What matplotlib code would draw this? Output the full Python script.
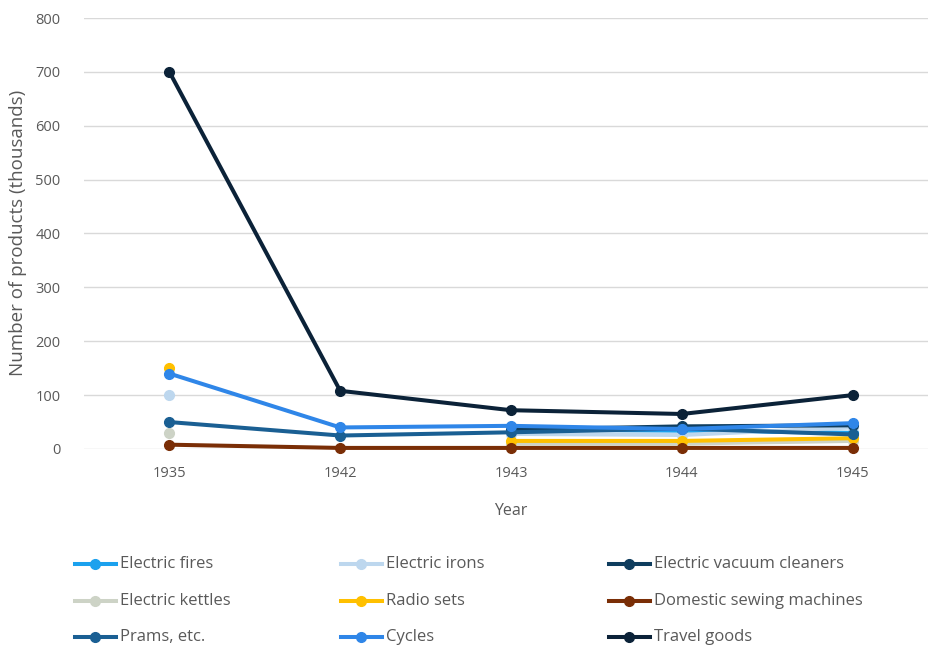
import numpy as np
import matplotlib
matplotlib.use("Agg")
import matplotlib.pyplot as plt
from matplotlib.lines import Line2D

plt.rcParams['font.family'] = ['Open Sans', 'DejaVu Sans']

years = ["1935", "1942", "1943", "1944", "1945"]
nan = np.nan

electric_fires = [nan, nan, 36, 34, 30]
electric_irons = [100, nan, 28, 26, 40]
vacuum_cleaners = [nan, nan, 36, 42, 44]
electric_kettles = [30, nan, 10, 10, 15]
radio_sets = [150, nan, 15, 15, 20]
sewing_machines = [8, 2, 2, 2, 2]
prams = [50, 25, 31, 38, 27]
cycles = [140, 40, 43, 37, 48]
travel_goods = [700, 108, 72, 65, 100]

series_names = ["Electric fires", "Electric irons", "Electric vacuum cleaners",
                "Electric kettles", "Radio sets", "Domestic sewing machines",
                "Prams, etc.", "Cycles", "Travel goods"]
series_values = [electric_fires, electric_irons, vacuum_cleaners,
                 electric_kettles, radio_sets, sewing_machines,
                 prams, cycles, travel_goods]
series_colors = ["#1BA1EE", "#BDD7EE", "#0F3D5E",
                 "#CDD3C6", "#FFC000", "#7A2E06",
                 "#1A5F93", "#2F86E8", "#0B2238"]

LW = 2.9
MS = 7.0

W, H = 929, 652
fig = plt.figure(figsize=(W / 100, H / 100), dpi=100)

# plot area in pixel coordinates
left_px, right_px, top_px, bottom_px = 84, 938, 18, 449
ax = fig.add_axes([left_px / W, 1 - bottom_px / H,
                   (right_px - left_px) / W, (bottom_px - top_px) / H])

x = np.arange(len(years))
for name, vals, col in zip(series_names, series_values, series_colors):
    ax.plot(x, vals, color=col, lw=LW, marker='o', markersize=MS,
            solid_capstyle='round', label=name, clip_on=False)

ax.set_xlim(-0.5, len(years) - 0.5)
ax.set_ylim(0, 800)
ax.set_yticks(np.arange(0, 801, 100))
ax.set_xticks(x)
ax.set_xticklabels(years)
ax.grid(axis='y', color='#D9D9D9', lw=1)
ax.set_axisbelow(True)
for s in ax.spines.values():
    s.set_visible(False)
ax.tick_params(length=0, colors='#595959', labelsize=10.5)
ax.tick_params(axis='y', pad=17)
ax.tick_params(axis='x', pad=12)

ax.set_xlabel("Year", color='#595959', fontsize=11.5, labelpad=16)
fig.text(18 / W, 1 - 233 / H, "Number of products (thousands)", rotation=90,
         ha='center', va='center', color='#595959', fontsize=13.5)

# legend laid out in three columns, row by row
col_x = [75, 341, 609]
row_y = [564, 601, 637]
for i, (name, col) in enumerate(zip(series_names, series_colors)):
    r, c = divmod(i, 3)
    x0 = col_x[c]
    yy = 1 - row_y[r] / H
    fig.add_artist(Line2D([x0 / W, (x0 + 41) / W], [yy, yy], color=col, lw=LW,
                          transform=fig.transFigure))
    fig.add_artist(Line2D([(x0 + 20.5) / W], [yy], color=col, marker='o',
                          markersize=MS, transform=fig.transFigure))
    fig.text((x0 + 45) / W, yy, name, ha='left', va='center',
             color='#595959', fontsize=12)

fig.savefig("out.png", dpi=100)
